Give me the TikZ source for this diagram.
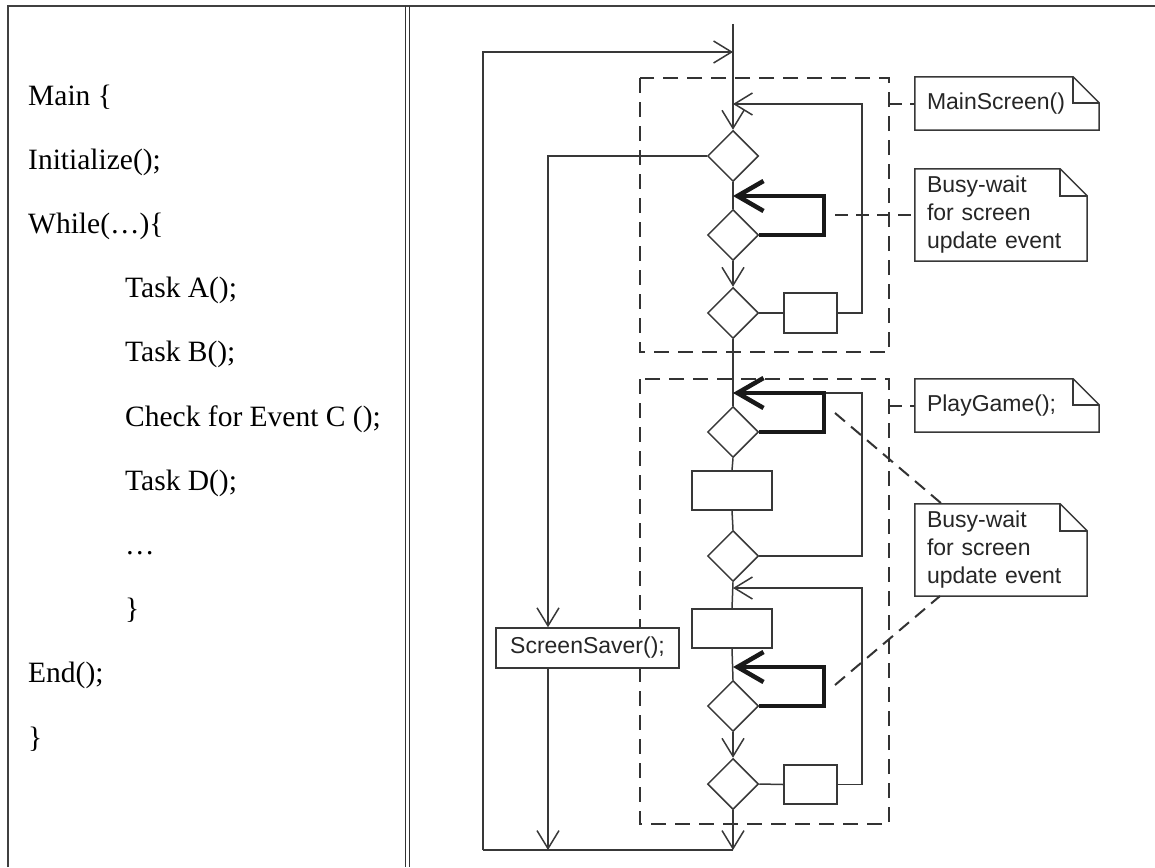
\documentclass[tikz,border=0pt]{standalone}
\usepackage{fontspec}
\setmainfont{Liberation Serif}
\newfontfamily\hel{Liberation Sans}
\usetikzlibrary{arrows.meta,shapes.geometric,calc}
\newcommand\umlnote[2]{%
  \draw[ln] (#1.north west) -- ([xshift=-#2]#1.north east) -- ([yshift=-#2]#1.north east) -- (#1.south east) -- (#1.south west) -- cycle;
  \draw[ln] ([xshift=-#2]#1.north east) -- ([xshift=-#2,yshift=-#2]#1.north east) -- ([yshift=-#2]#1.north east);}
\begin{document}
\begin{tikzpicture}[x=1pt,y=-1pt,
  ln/.style={line width=1.5pt, draw=black!78},
  arr/.style={ln, -{Straight Barb[length=18pt,width=22pt,line width=1.5pt]}},
  thk/.style={line width=4.5pt, draw=black!90, line join=miter, -{Straight Barb[length=26pt,width=30pt,line width=4.5pt]}},
  dbox/.style={line width=2.8pt, draw=black!80, dash pattern=on 15pt off 9pt},
  dcon/.style={line width=2pt, draw=black!80, dash pattern=on 13pt off 8pt},
  dia/.style={diamond, draw=black!78, line width=1.5pt, minimum width=51pt, minimum height=51pt, inner sep=0pt, fill=white},
  blk/.style={rectangle, draw=black!78, line width=1.5pt, inner sep=0pt, fill=white},
  code/.style={anchor=base west, font=\fontsize{29.5}{34}\selectfont, inner sep=0pt},
  note/.style={rectangle, draw=none, inner xsep=12pt, inner ysep=0pt, font=\hel\fontsize{23}{28}\selectfont, text=black!85, align=left}
]
\useasboundingbox (0,0) rectangle (1155,867);

% table frame
\draw[line width=2pt, black!75] (8,867) -- (8,6) -- (1155,6);
\draw[line width=1.3pt, black!80] (405.8,6) -- (405.8,867);
\draw[line width=1.3pt, black!80] (409.4,6) -- (409.4,867);

% code column
\node[code] (c1) at (28,105) {Main \{};
\node[code] (c2) at (28,169.2) {Initialize();};
\node[code] (c3) at (28,233.4) {While(…)\{};
\node[code] (c4) at (125,297.6) {Task A();};
\node[code] (c5) at (125,361.8) {Task B();};
\node[code] (c6) at (125,426) {Check for Event C ();};
\node[code] (c7) at (125,490.2) {Task D();};
\node[code] (c8) at (125,554.4) {…};
\node[code] (c9) at (125,618.6) {\}};
\node[code] (c10) at (28,682.8) {End();};
\node[code] (c11) at (28,747) {\}};

% dashed group boxes
\draw[dbox] (640,78) rectangle (889,352);
\draw[dbox] (640,379) rectangle (889,824);

% coordinates
\coordinate (top) at (733,24);
\coordinate (in1) at (733,52);
\coordinate (in2) at (733,104);
\coordinate (lt) at (483,52);
\coordinate (lb) at (483,850);
\coordinate (bm) at (733,850);
\coordinate (sst) at (548,156);
\coordinate (ssb) at (548,850);
\coordinate (ta1) at (733,196);
\coordinate (ta2) at (733,393);
\coordinate (ta3) at (733,588);
\coordinate (ta4) at (733,667);

% nodes
\node[dia] (d1) at (733,156) {};
\node[dia] (d2) at (733,235) {};
\node[dia] (d3) at (733,313) {};
\node[dia] (d4) at (733,432) {};
\node[dia] (d5) at (733,556) {};
\node[dia] (d6) at (733,706) {};
\node[dia] (d7) at (733,784) {};
\node[blk, minimum width=53pt, minimum height=40pt] (r1) at (810.5,313) {};
\node[blk, minimum width=80pt, minimum height=39pt] (r2) at (732,490.5) {};
\node[blk, minimum width=80pt, minimum height=39pt] (r3) at (732,628.5) {};
\node[blk, minimum width=53pt, minimum height=39pt] (r4) at (810.5,784.5) {};
\node[blk, minimum width=183pt, minimum height=40pt, font=\hel\fontsize{23}{28}\selectfont, text=black!85] (ss) at (587.5,648) {ScreenSaver();};

% main flow
\draw[arr] (top) -- (d1.north);
\draw[arr] (lb) -- (lt) -- (in1);
\draw[arr] (d1.west) -- (sst) -- (sst |- ss.north);
\draw[arr] (ss.south -| ssb) -- (ssb);
\draw[ln] (bm) -- (lb);
\draw[ln] (d1.south) -- (d2.north);
\draw[arr] (d2.south) -- (d3.north);
\draw[ln] (d3.east) -- (r1.west);
\draw[arr] (r1.east) -- (862,313) -- (862,104) -- (in2);
\draw[ln] (d3.south) -- (d4.north);
\draw[ln] (d4.south) -- (r2.north);
\draw[ln] (r2.south) -- (d5.north);
\draw[ln] (d5.east) -- (862,556) -- (862,393) -- (ta2);
\draw[ln] (d5.south) -- (r3.north);
\draw[arr] (r4.east) -- (862,784.5) -- (862,588) -- (ta3);
\draw[ln] (r3.south) -- (d6.north);
\draw[arr] (d6.south) -- (d7.north);
\draw[ln] (d7.east) -- (r4.west);
\draw[arr] (d7.south) -- (bm);

% thick busy-wait loops
\draw[thk] (d2.east) -- (824,235) -- (824,196) -- (ta1);
\draw[thk] (d4.east) -- (824,432) -- (824,393) -- (ta2);
\draw[thk] (d6.east) -- (824,706) -- (824,667) -- (ta4);

% notes
\node[note, minimum width=184pt, minimum height=53pt, text width=160pt] (n1) at (1007,103.5) {MainScreen()};
\node[note, minimum width=172pt, minimum height=92pt, text width=148pt] (n2) at (1001,215) {Busy-wait\\for screen\\update event};
\node[note, minimum width=184pt, minimum height=53pt, text width=160pt] (n3) at (1007,405.5) {PlayGame();};
\node[note, minimum width=172pt, minimum height=92pt, text width=148pt] (n4) at (1001,550) {Busy-wait\\for screen\\update event};
\umlnote{n1}{26pt}
\umlnote{n2}{27pt}
\umlnote{n3}{26pt}
\umlnote{n4}{27pt}

% note connectors
\draw[dcon] (889,103.5) -- (n1.west);
\draw[dcon] (835,215) -- (n2.west);
\draw[dcon] (889,405.5) -- (n3.west);
\draw[dcon] (835,413) -- (942,504);
\draw[dcon] (835,685) -- (940,596);
\end{tikzpicture}
\end{document}
